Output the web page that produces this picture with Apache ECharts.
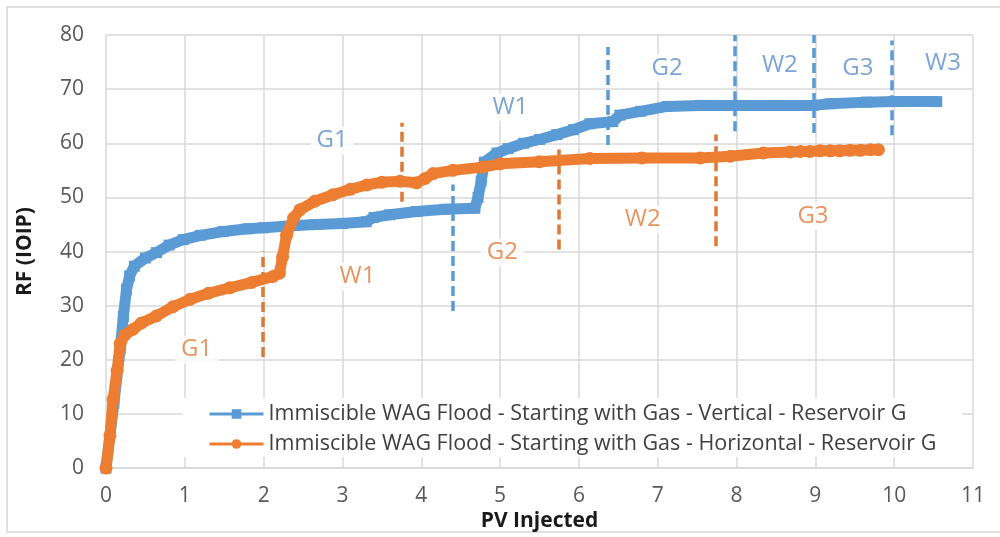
<!DOCTYPE html>
<html>
<head>
<meta charset="utf-8">
<title>Immiscible WAG Flood - Reservoir G</title>
<script src="https://cdn.jsdelivr.net/npm/echarts@6/dist/echarts.min.js"></script>
<style>
  html, body { margin: 0; padding: 0; background: #ffffff; }
  #chart { width: 1000px; height: 537px; }
</style>
</head>
<body>
<div id="chart"></div>
<script>
// Recovery factor (% IOIP) versus pore volumes injected
const verticalName = 'Immiscible WAG Flood - Starting with Gas - Vertical - Reservoir G';
const horizontalName = 'Immiscible WAG Flood - Starting with Gas - Horizontal - Reservoir G';

const verticalPV = [0, 0.1, 0.18, 0.22, 0.26, 0.3, 0.36, 0.5, 0.64, 0.8, 0.98, 1.2, 1.49, 1.8, 2.0, 2.4, 2.67, 3.0, 3.3, 3.4, 3.6, 3.94, 4.3, 4.68, 4.72, 4.76, 4.8, 4.96, 5.1, 5.3, 5.5, 5.72, 5.93, 6.14, 6.43, 6.52, 6.78, 7.12, 7.54, 8.0, 8.5, 8.97, 9.19, 9.65, 10.0, 10.54];
const verticalRF = [0, 12, 22, 28, 33, 35.5, 37.3, 38.8, 39.8, 41.2, 42.2, 43, 43.7, 44.2, 44.4, 44.8, 45, 45.2, 45.5, 46.3, 46.8, 47.4, 47.8, 48, 50, 53, 56.5, 58.2, 59, 60, 60.7, 61.6, 62.5, 63.6, 64, 65.2, 65.9, 66.8, 67, 67, 67, 67, 67.3, 67.6, 67.7, 67.7];

const horizontalPV = [0, 0.05, 0.09, 0.14, 0.18, 0.24, 0.34, 0.45, 0.64, 0.85, 1.07, 1.3, 1.57, 1.85, 2.12, 2.2, 2.24, 2.29, 2.38, 2.46, 2.65, 2.88, 3.1, 3.31, 3.5, 3.73, 3.94, 4.05, 4.15, 4.4, 4.78, 5.0, 5.5, 6.14, 6.8, 7.54, 7.92, 8.34, 8.68, 8.81, 8.93, 9.06, 9.19, 9.31, 9.44, 9.57, 9.7, 9.8];
const horizontalRF = [0, 6, 12.7, 18, 23, 24.6, 25.6, 26.8, 28.1, 29.8, 31.2, 32.3, 33.3, 34.3, 35.4, 36, 39, 43, 46.2, 47.7, 49.3, 50.5, 51.5, 52.3, 52.8, 53, 52.7, 53.5, 54.4, 55, 55.6, 56.2, 56.6, 57.2, 57.3, 57.3, 57.6, 58.2, 58.4, 58.5, 58.5, 58.6, 58.6, 58.6, 58.7, 58.7, 58.8, 58.8];

// Injection-cycle boundaries: [PV, RF from, RF to]
const verticalStageBounds = [[4.40, 29, 52.4], [6.36, 59.7, 77.8], [7.98, 62.2, 80], [8.98, 61.9, 80], [9.97, 61.5, 79]];
const horizontalStageBounds = [[1.99, 20.5, 40], [3.75, 49.2, 63.8], [5.74, 40.4, 59.7], [7.74, 41, 61.6]];

// Cycle labels: name, PV, RF
const verticalStageNames = ['G1', 'W1', 'G2', 'W2', 'G3', 'W3'];
const verticalStagePV = [2.87, 5.13, 7.12, 8.55, 9.54, 10.62];
const verticalStageRF = [60.5, 66.7, 73.9, 74.5, 73.9, 74.8];
const horizontalStageNames = ['G1', 'W1', 'G2', 'W2', 'G3'];
const horizontalStagePV = [1.15, 3.19, 5.03, 6.81, 8.97];
const horizontalStageRF = [21.9, 35.4, 39.8, 45.9, 46.5];

const xTicks = [0, 11, 1];   // min, max, step
const yTicks = [0, 80, 10];

const BLUE = '#5b9bd5';
const ORANGE = '#ed7d31';
const GRID = '#d9d9d9';
const FONT = 'Open Sans';

function pairs(xs, ys) { return xs.map((x, i) => [x, ys[i]]); }
function boundLines(bounds) {
  return bounds.map(b => [{ coord: [b[0], b[1]] }, { coord: [b[0], b[2]] }]);
}
function stageLabels(names, xs, ys) {
  return names.map((n, i) => ({ value: [xs[i], ys[i]], name: n }));
}

const chart = echarts.init(document.getElementById('chart'), null, { renderer: 'canvas' });

chart.setOption({
  animation: false,
  backgroundColor: '#ffffff',
  textStyle: { fontFamily: FONT },
  grid: { left: 106, right: 27, top: 35, bottom: 68, containLabel: false },
  graphic: [{
    type: 'rect', z: -10, silent: true,
    shape: { x: 7, y: 7, width: 1010, height: 525 },
    style: { fill: 'none', stroke: '#d6d6d6', lineWidth: 1.5 }
  }],
  xAxis: {
    type: 'value', min: xTicks[0], max: xTicks[1], interval: xTicks[2],
    name: 'PV Injected', nameLocation: 'middle', nameGap: 39,
    nameTextStyle: { fontFamily: FONT, fontWeight: 'bold', fontSize: 21, color: '#1a1a1a' },
    axisLine: { show: true, lineStyle: { color: GRID, width: 1.5 } },
    axisTick: { show: false },
    axisLabel: { margin: 17, fontSize: 21, color: '#595959', fontFamily: FONT },
    splitLine: { show: true, lineStyle: { color: GRID, width: 1.5 } }
  },
  yAxis: {
    type: 'value', min: yTicks[0], max: yTicks[1], interval: yTicks[2],
    name: 'RF (IOIP)', nameLocation: 'middle', nameGap: 70, nameRotate: 90,
    nameTextStyle: { fontFamily: FONT, fontWeight: 'bold', fontSize: 21, color: '#1a1a1a' },
    axisLine: { show: false },
    axisTick: { show: false },
    axisLabel: { margin: 22, fontSize: 21, color: '#595959', fontFamily: FONT },
    splitLine: { show: true, lineStyle: { color: GRID, width: 1.5 } }
  },
  legend: {
    data: [verticalName, horizontalName],
    orient: 'vertical',
    left: 183, top: 398,
    backgroundColor: '#ffffff',
    padding: [5, 26, 2, 25],
    itemWidth: 54, itemHeight: 12, itemGap: 8,
    textStyle: { fontFamily: FONT, fontSize: 21.5, color: '#404040' },
    lineStyle: { width: 3 }
  },
  series: [
    {
      name: 'verticalStageLabels', type: 'scatter', z: 1, symbolSize: 0, silent: true,
      data: stageLabels(verticalStageNames, verticalStagePV, verticalStageRF),
      label: {
        show: true, position: 'inside', formatter: p => p.name,
        fontFamily: FONT, fontSize: 24, color: '#5a8cc8',
        backgroundColor: '#ffffff', padding: [2, 6]
      }
    },
    {
      name: 'horizontalStageLabels', type: 'scatter', z: 1, symbolSize: 0, silent: true,
      data: stageLabels(horizontalStageNames, horizontalStagePV, horizontalStageRF),
      label: {
        show: true, position: 'inside', formatter: p => p.name,
        fontFamily: FONT, fontSize: 24, color: '#e07b3a',
        backgroundColor: '#ffffff', padding: [2, 6]
      }
    },
    {
      name: 'verticalStageBounds', type: 'line', data: [], z: 3, silent: true,
      markLine: {
        symbol: 'none', silent: true, label: { show: false },
        lineStyle: { color: BLUE, width: 3.5, type: [10, 5] },
        data: boundLines(verticalStageBounds)
      }
    },
    {
      name: 'horizontalStageBounds', type: 'line', data: [], z: 3, silent: true,
      markLine: {
        symbol: 'none', silent: true, label: { show: false },
        lineStyle: { color: '#dc7a36', width: 3.5, type: [10, 5] },
        data: boundLines(horizontalStageBounds)
      }
    },
    {
      name: verticalName, type: 'line', z: 4,
      data: pairs(verticalPV, verticalRF),
      color: BLUE,
      showSymbol: true, showAllSymbol: true,
      symbol: 'rect', symbolSize: 11,
      itemStyle: { color: BLUE },
      lineStyle: { color: BLUE, width: 11, join: 'bevel' }
    },
    {
      name: horizontalName, type: 'line', z: 5,
      data: pairs(horizontalPV, horizontalRF),
      color: ORANGE,
      showSymbol: true, showAllSymbol: true,
      symbol: 'circle', symbolSize: 13,
      itemStyle: { color: ORANGE },
      lineStyle: { color: ORANGE, width: 11, join: 'round' }
    }
  ]
});
</script>
</body>
</html>
